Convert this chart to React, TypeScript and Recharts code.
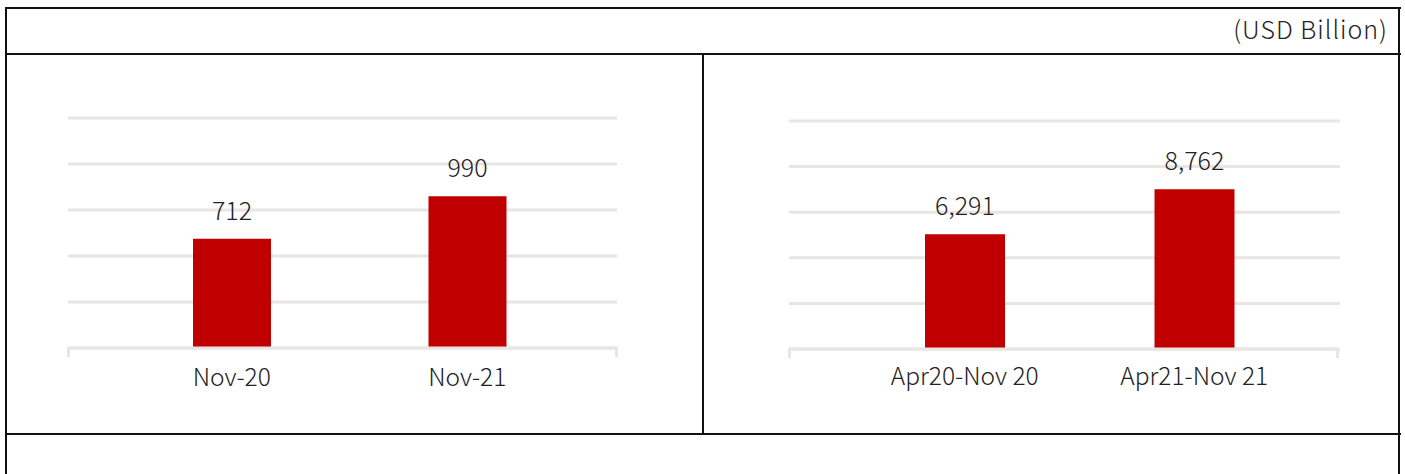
import React from "react";
import { BarChart, Bar, XAxis, YAxis, CartesianGrid, LabelList } from "recharts";

const monthCategories = ["Nov-20", "Nov-21"];
const monthValues = [712, 990];
const monthTicks = [0, 300, 600, 900, 1200, 1500];

const periodCategories = ["Apr20-Nov 20", "Apr21-Nov 21"];
const periodValues = [6291, 8762];
const periodTicks = [0, 2500, 5000, 7500, 10000, 12500];

const unitLabel = "(USD Billion)";

const FONT = "'Noto Sans CJK JP', 'Noto Sans', sans-serif";
const TEXT = "#222222";
const GRID = "#E8E5E2";
const BAR = "#C00000";
const LINE = "#111111";

const monthData = monthCategories.map((c, i) => ({ name: c, value: monthValues[i] }));
const periodData = periodCategories.map((c, i) => ({ name: c, value: periodValues[i] }));

const fmt = (v: any) => Number(v).toLocaleString("en-US");

type PanelProps = {
  data: { name: string; value: number }[];
  ticks: number[];
  width: number;
  height: number;
  margin: { top: number; right: number; left: number; bottom: number };
  padding: { left: number; right: number };
  barSize: number;
  tickMargin: number;
};

function Panel({ data, ticks, width, height, margin, padding, barSize, tickMargin }: PanelProps) {
  return (
    <BarChart width={width} height={height} data={data} margin={margin}>
      <CartesianGrid horizontal vertical={false} stroke={GRID} strokeWidth={3} />
      <YAxis hide domain={[ticks[0], ticks[ticks.length - 1]]} ticks={ticks} />
      <XAxis
        dataKey="name"
        height={30}
        padding={padding}
        axisLine={{ stroke: GRID, strokeWidth: 3 }}
        tickLine={false}
        tickSize={0}
        tickMargin={tickMargin}
        tick={{ fill: TEXT, fontSize: 24.5, fontFamily: FONT, fontWeight: 300 }}
        interval={0}
      />
      <Bar dataKey="value" fill={BAR} barSize={barSize} isAnimationActive={false}>
        <LabelList
          dataKey="value"
          position="top"
          offset={19}
          formatter={fmt}
          style={{ fill: TEXT, fontSize: 25, fontFamily: FONT, fontWeight: 300 }}
        />
      </Bar>
    </BarChart>
  );
}

const abs = (left: number, top: number, width: number, height: number, bg: string): React.CSSProperties => ({
  position: "absolute",
  left,
  top,
  width,
  height,
  background: bg,
});

export default function App() {
  return (
    <div style={{ position: "absolute", left: 0, top: 0, width: 1405, height: 474, overflow: "hidden", background: "#fff", fontFamily: FONT }}>
      {/* table frame */}
      <div style={abs(5, 7, 1396, 2, LINE)} />
      <div style={abs(5, 53, 1396, 2, LINE)} />
      <div style={abs(5, 433, 1396, 2, LINE)} />
      <div style={abs(5, 7, 2, 467, LINE)} />
      <div style={abs(1398, 7, 2, 467, LINE)} />
      <div style={abs(702, 53, 2, 382, LINE)} />

      {/* unit label */}
      <div
        style={{
          position: "absolute",
          right: 1405 - 1388,
          top: 11,
          fontSize: 25,
          fontWeight: 300,
          lineHeight: "34px",
          color: TEXT,
          letterSpacing: 1,
          whiteSpace: "nowrap",
        }}
      >
        {unitLabel}
      </div>

      {/* left chart */}
      <div style={{ position: "absolute", left: 7, top: 55 }}>
        <Panel
          data={monthData}
          ticks={monthTicks}
          width={695}
          height={378}
          margin={{ top: 63, right: 85, left: 61, bottom: 55 }}
          padding={{ left: 46, right: 32 }}
          barSize={78}
          tickMargin={21}
        />
      </div>
      <div style={abs(67, 347, 3, 10, GRID)} />
      <div style={abs(615, 347, 3, 10, GRID)} />

      {/* right chart */}
      <div style={{ position: "absolute", left: 704, top: 55 }}>
        <Panel
          data={periodData}
          ticks={periodTicks}
          width={694}
          height={378}
          margin={{ top: 66, right: 58, left: 85, bottom: 54 }}
          padding={{ left: 61, right: 31 }}
          barSize={80}
          tickMargin={19}
        />
      </div>
      <div style={abs(788, 348, 3, 10, GRID)} />
      <div style={abs(1336, 348, 3, 10, GRID)} />
    </div>
  );
}
